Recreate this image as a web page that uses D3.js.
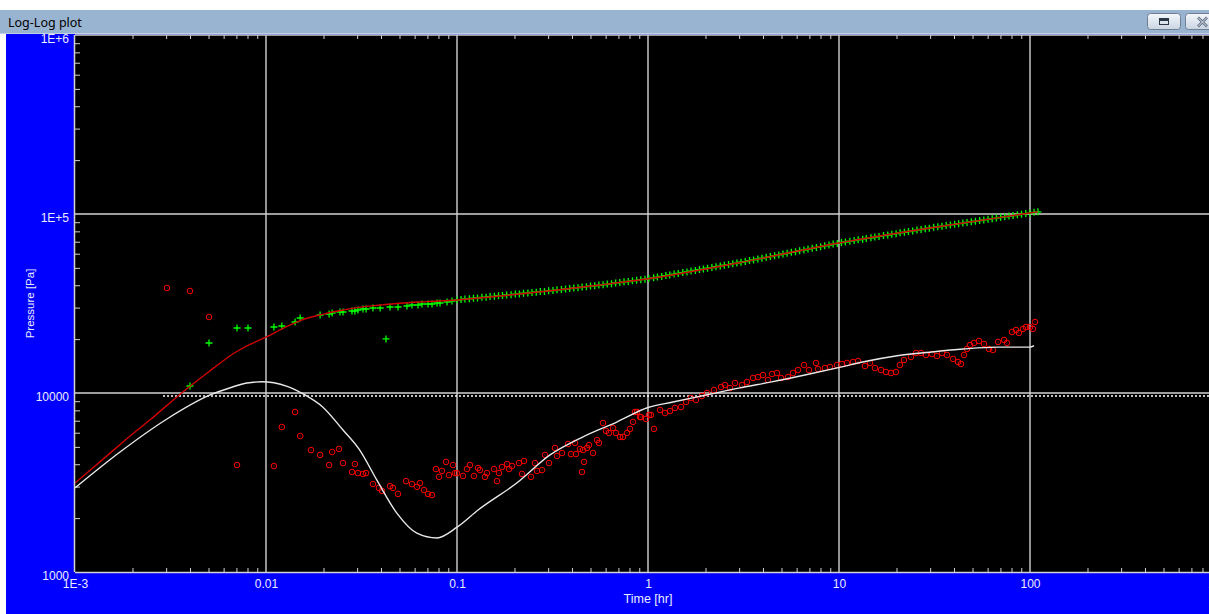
<!DOCTYPE html>
<html><head><meta charset="utf-8">
<script src="https://cdn.jsdelivr.net/npm/d3@7"></script>
<style>html,body{margin:0;padding:0;background:#fff;overflow:hidden}svg{display:block}</style>
</head><body><svg id="c" width="1209" height="614"></svg>
<script>
// ---------------- data ----------------
const windowTitle = "Log-Log plot";
const xLabel = "Time [hr]";
const yLabel = "Pressure [Pa]";
const xTicks = [0.001, 0.01, 0.1, 1, 10, 100, 1000];
const xTickLabels = ["1E-3", "0.01", "0.1", "1", "10", "100", "1000"];
const yTicks = [1000, 10000, 100000, 1000000];
const yTickLabels = ["1000", "10000", "1E+5", "1E+6"];

// model pressure (red line)
const modelPressureTime = [0.001,0.0015,0.002,0.0025,0.003,0.004,0.005,0.006,0.007,0.008,0.01,0.0125,0.015,0.02,0.025,0.03,0.04,0.05,0.07,0.1,0.2,0.3,0.56,1,3,10,30,100,110];
const modelPressure     = [3140,4540,5900,7150,8450,10900,13100,15200,17000,18400,20500,23200,25300,27600,29000,30000,31000,31700,32400,33100,35500,37150,40100,43450,53450,68870,83500,101300,102850];

// model derivative (white line)
const modelDerivTime = [0.001,0.00172,0.00303,0.0051,0.0065,0.00795,0.0095,0.011,0.0129,0.016,0.0198,0.0253,0.0309,0.038,0.0483,0.0616,0.0785,0.1,0.129,0.2055,0.307,0.457,0.686,1.0,1.35,2.04,3.03,4.44,6.63,10.2,13.3,19.8,29.9,44.5,67,100,105];
const modelDeriv     = [2950,4680,7160,9750,10700,11380,11550,11400,10900,9750,8360,6210,4810,3270,2140,1650,1550,1780,2220,3140,4510,5690,6880,8300,8900,9770,10690,11530,12600,13950,14900,16100,16900,17600,18050,18050,18400];

// measured pressure (green crosses)
const pressureTime = [0.0040,0.00503,0.00705,0.00805,0.0110,0.0121,0.0142,0.0151,0.0192,0.0214,0.0222,0.0244,0.0253,0.0282,0.0292,0.0303,0.0322,0.0334,0.0363,0.0396,0.0425,0.0446,0.0491,0.0547,0.0581,0.0625,0.0656,0.0705,0.0740,0.0786,0.0815,0.0887,0.0942,0.1,
 0.105,0.11,0.116,0.122,0.128,0.135,0.142,0.149,0.157,0.165,0.173,0.182,0.192,0.202,0.212,0.223,0.235,0.247,0.26,0.273,0.287,0.302,0.318,0.334,0.352,0.37,0.389,0.409,0.43,0.452,0.476,0.5,0.526,0.553,0.582,0.612,0.644,0.677,0.712,0.749,0.788,0.829,0.872,0.917,0.964,
 1.01,1.07,1.12,1.18,1.24,1.3,1.37,1.44,1.52,1.6,1.68,1.77,1.86,1.95,2.05,2.16,2.27,2.39,2.51,2.64,2.78,2.92,3.07,3.23,3.4,3.57,3.76,3.95,4.16,4.37,4.6,4.84,5.09,5.35,5.63,5.92,6.22,6.55,6.88,7.24,7.62,8.01,8.42,8.86,9.32,9.8,
 10.3,10.8,11.4,12,12.6,13.3,13.9,14.7,15.4,16.2,17.1,18,18.9,19.9,20.9,22,23.1,24.3,25.6,26.9,28.3,29.7,31.3,32.9,34.6,36.4,38.3,40.3,42.3,44.5,46.8,49.3,51.8,54.5,57.3,60.3,63.4,66.7,70.2,73.8,77.6,81.6,85.9,90.3,95,99.9,105,110];
const pressure = [10940,19030,23070,23070,23370,23670,24930,26240,27280,27630,27990,28350,28350,28710,28710,29090,29460,29460,29840,29840,20040,30230,30230,30620,31020,31020,31420,31420,31420,31820,31820,32230,32650,33080,
 33270,33500,33580,33850,33920,34220,34310,34580,34680,34950,35030,35310,35420,35700,35790,36070,36180,36470,36570,36850,36960,37240,37370,37690,37850,38150,38300,38620,38760,39090,39250,39580,39730,40060,40240,40620,40820,41200,41390,41780,41980,42380,42590,42980,43200,
 43580,43980,44440,44800,45310,45620,46160,46510,47080,47450,47980,48360,48900,49250,49810,50210,50780,51180,51750,52160,52760,53170,53760,54250,54930,55400,56100,56590,57300,57810,58530,59060,59790,60320,61060,61610,62360,62930,63700,64280,65090,65650,66460,67060,67880,68500,
 69290,69760,70530,71060,71790,72360,73040,73640,74360,74920,75740,76320,77100,77680,78460,79070,79860,80470,81310,81920,82760,83350,84200,84740,85550,86120,86940,87540,88330,88940,89770,90410,91240,91860,92720,93370,94220,94880,95770,96420,97320,97990,98910,99590,100520,101200,102150,102780];

// measured derivative (red circles)
const derivTime = [0.00303,0.0040,0.00503,0.00705,0.0110,0.0121,0.0142,0.0151,0.0172,0.0192,0.0214,0.0222,0.0241,0.0253,0.0282,0.0292,0.0303,0.0322,0.0334,0.0363,0.0390,0.0405,0.0446,0.0462,0.0491,0.0541,0.0581,0.0617,0.0640,0.0672,0.0705,0.0740,0.0776,0.0805,0.0834,0.0876,0.0908,0.0953,0.0976,0.100,
 0.1075,0.1128,0.1169,0.1227,0.1288,0.1319,0.1401,0.1435,0.1562,0.1619,0.1659,0.1720,0.1828,0.1872,0.1941,0.2112,0.2189,0.2243,0.2440,0.2561,0.2623,0.2787,0.2889,0.3032,0.3259,0.3338,0.3545,0.3812,0.3954,0.4148,0.4198,0.4406,0.4513,0.4568,0.4623,0.4793,0.4910,0.5153,0.5408,0.5540,
 0.5813,0.6027,0.6249,0.6558,0.6800,0.7136,0.7398,0.7764,0.8050,0.8346,0.8550,0.8758,0.9080,0.9190,0.9762,1.012,1.037,1.075,1.156,1.227,1.304,1.384,1.489,1.581,1.679,1.783,1.917,2.037,2.216,2.412,2.531,2.687,2.854,3.106,3.298,3.546,3.766,4.000,4.248,4.458,4.734,4.971,
 5.407,5.743,6.101,6.558,6.965,7.579,7.764,8.447,8.972,9.761,10.37,11.01,11.84,12.58,13.68,14.53,15.43,16.59,17.62,18.71,19.87,20.85,21.88,23.82,25.31,26.87,28.54,30.69,32.59,34.61,36.76,39.53,41.98,43.53,45.13,46.79,48.52,50.91,54.07,57.43,61.00,64.01,68.00,73.11,75.79,80.50,84.47,87.58,91.90,95.28,100,103.7,106.2];
const deriv = [38610,37140,26590,3960,3910,6460,7830,5750,4800,4510,3960,4680,4870,4060,3620,4010,3570,3530,3570,3100,2950,2840,3020,2950,2730,3220,3100,2990,3140,2870,2730,2690,3760,3400,3670,4120,3480,3960,3570,3570,
 3440,3760,3960,3440,3810,3710,3400,3570,3760,3220,3570,3860,4010,3760,3910,4060,3530,4170,3400,4060,3670,3710,4510,4060,4930,4450,4620,5190,4560,5260,4560,4870,3620,4800,4120,4930,5120,4620,5460,5260,
 6800,6140,5980,6380,5980,5680,5680,5980,6300,6890,7830,7830,7340,7340,7160,7540,7540,6300,8040,7730,7930,8250,8350,8910,9380,9140,9620,10000,10390,10800,11080,10660,11370,11080,11520,12130,12280,12600,11820,12770,12930,12130,
 12280,12930,13440,14330,13440,14710,13610,13790,13970,14330,14520,14710,14900,15090,14150,14710,13790,13440,13100,12930,13100,14330,15290,15890,16730,16730,16310,16510,16100,16730,16310,15490,14900,14520,16310,17610,18540,19030,19530,18790,17610,17390,19280,19780,19030,21920,22490,21640,22790,23370,23370,22790,24930];

// horizontal dotted stabilisation line
const stabilizationLevel = 9620;
const stabilizationStart = 0.00289;
const stabilizationEnd = 1000;

// ---------------- drawing ----------------
const W = 1209, H = 614;
const L = 75, T = 35, B = 572;
const svg = d3.select("#c");
const x = d3.scaleLog().domain([1e-3, 1e3]).range([L, 1221]);
const y = d3.scaleLog().domain([1e3, 1e6]).range([B, T]);
const FONT = "'Liberation Sans', Arial, sans-serif";
const LABEL = "#ececff";
const GRID = "#d2d2d2";

svg.append("rect").attr("width", W).attr("height", H).attr("fill", "#fff");
svg.append("rect").attr("x", 6).attr("y", 34).attr("width", W - 6).attr("height", H - 34).attr("fill", "#0000ff");
svg.append("rect").attr("x", L).attr("y", T).attr("width", W - L).attr("height", B - T).attr("fill", "#000");

// gridlines
svg.append("g").selectAll("line").data(xTicks.slice(1)).join("line")
  .attr("x1", d => x(d)).attr("x2", d => x(d)).attr("y1", T).attr("y2", B)
  .attr("stroke", GRID).attr("stroke-width", 1.4);
svg.append("g").selectAll("line").data(yTicks.slice(1)).join("line")
  .attr("x1", L).attr("x2", W).attr("y1", d => y(d)).attr("y2", d => y(d))
  .attr("stroke", GRID).attr("stroke-width", 1.4);

// minor tick values
const xMinor = [], yMinor = [];
for (let e = -3; e < 3; e++) for (let k = 2; k <= 9; k++) xMinor.push(k * Math.pow(10, e));
for (let e = 3; e < 6; e++) for (let k = 2; k <= 9; k++) yMinor.push(k * Math.pow(10, e));

function styleAxis(g) {
  g.selectAll(".domain").attr("stroke", GRID).attr("stroke-width", 1.5);
  g.selectAll(".tick line").attr("stroke", GRID).attr("stroke-width", 1);
  g.selectAll("text").attr("fill", LABEL).attr("font-family", FONT).attr("font-size", 12);
}
// bottom minor ticks (upward)
svg.append("g").attr("transform", `translate(0,${B})`)
  .call(d3.axisBottom(x).tickValues(xMinor).tickSize(-4).tickSizeOuter(0).tickFormat(""))
  .call(styleAxis).call(g => g.select(".domain").remove());
// top minor ticks (downward)
svg.append("g").attr("transform", `translate(0,${T})`)
  .call(d3.axisTop(x).tickValues(xMinor).tickSize(-4).tickSizeOuter(0).tickFormat(""))
  .call(styleAxis).call(g => g.select(".domain").remove());
// left minor ticks (rightward)
svg.append("g").attr("transform", `translate(${L},0)`)
  .call(d3.axisLeft(y).tickValues(yMinor).tickSize(-5).tickSizeOuter(0).tickFormat(""))
  .call(styleAxis).call(g => g.select(".domain").remove());

// clipped data layer
svg.append("defs").append("clipPath").attr("id", "plot")
  .append("rect").attr("x", L).attr("y", T).attr("width", W - L).attr("height", B - T);
const plot = svg.append("g").attr("clip-path", "url(#plot)");

// stabilisation dotted line
plot.append("line")
  .attr("x1", x(stabilizationStart)).attr("x2", x(stabilizationEnd))
  .attr("y1", y(stabilizationLevel)).attr("y2", y(stabilizationLevel))
  .attr("stroke", "#ffffff").attr("stroke-width", 1.3).attr("stroke-dasharray", "2,2");

const line = d3.line().x(d => x(d[0])).y(d => y(d[1])).curve(d3.curveMonotoneX);

// red circles (derivative data)
const dpts = derivTime.map((t, i) => [t, deriv[i]]);
const cg = plot.append("g");
cg.selectAll("circle.o").data(dpts).join("circle").attr("class", "o")
  .attr("cx", d => x(d[0])).attr("cy", d => y(d[1])).attr("r", 2.8)
  .attr("fill", "none").attr("stroke", "#ff0000").attr("stroke-width", 1);
cg.selectAll("circle.c").data(dpts).join("circle").attr("class", "c")
  .attr("cx", d => x(d[0])).attr("cy", d => y(d[1])).attr("r", 0.6)
  .attr("fill", "#cc0000");

// white model derivative line
plot.append("path").datum(modelDerivTime.map((t, i) => [t, modelDeriv[i]]))
  .attr("d", line).attr("fill", "none").attr("stroke", "#e8e8e8").attr("stroke-width", 1.4);

// green crosses (pressure data)
const ppts = pressureTime.map((t, i) => [t, pressure[i]]);
plot.append("g").selectAll("path").data(ppts).join("path")
  .attr("transform", d => `translate(${x(d[0])},${y(d[1])})`)
  .attr("d", "M-3.5,0H3.5M0,-3.5V3.5")
  .attr("stroke", "#00ff00").attr("stroke-width", 1.3).attr("fill", "none");

// red model pressure line
plot.append("path").datum(modelPressureTime.map((t, i) => [t, modelPressure[i]]))
  .attr("d", line).attr("fill", "none").attr("stroke", "#d00000").attr("stroke-width", 1.4);

// axes with labels
const gx = svg.append("g").attr("transform", `translate(0,${B})`)
  .call(d3.axisBottom(x).tickValues(xTicks).tickFormat((d, i) => xTickLabels[i]).tickSize(0).tickSizeOuter(0).tickPadding(7))
  .call(styleAxis);
gx.select(".domain").attr("d", `M${L},0.5H${W}`);
const gy = svg.append("g").attr("transform", `translate(${L},0)`)
  .call(d3.axisLeft(y).tickValues(yTicks).tickFormat((d, i) => yTickLabels[i]).tickSize(0).tickSizeOuter(0).tickPadding(6))
  .call(styleAxis);
gy.selectAll("text").attr("dy", "0.62em");
gy.select(".domain").attr("d", `M-0.5,${T}V${B}`);

// axis titles
svg.append("text").attr("x", (x.range()[0] + x.range()[1]) / 2).attr("y", 603)
  .attr("text-anchor", "middle").attr("fill", LABEL).attr("font-family", FONT).attr("font-size", 12.5)
  .text(xLabel);
svg.append("text").attr("transform", `translate(34,${(T + B) / 2}) rotate(-90)`)
  .attr("text-anchor", "middle").attr("fill", LABEL).attr("font-family", FONT).attr("font-size", 11.5)
  .text(yLabel);

// window title bar
svg.append("rect").attr("x", 0).attr("y", 10).attr("width", W).attr("height", 23).attr("fill", "#99b4d1");
svg.append("rect").attr("x", 0).attr("y", 33).attr("width", W).attr("height", 1).attr("fill", "#c3d2e3");
svg.append("text").attr("x", 8).attr("y", 27).attr("fill", "#000").attr("font-family", "'Noto Sans', 'Liberation Sans', sans-serif")
  .attr("font-size", 12.5).text(windowTitle);
const grad = svg.select("defs").append("linearGradient").attr("id", "btn").attr("x1", 0).attr("x2", 0).attr("y1", 0).attr("y2", 1);
grad.append("stop").attr("offset", 0).attr("stop-color", "#f4f7fb");
grad.append("stop").attr("offset", 0.5).attr("stop-color", "#dfe6ef");
grad.append("stop").attr("offset", 1).attr("stop-color", "#c9d4e2");
svg.append("rect").attr("x", 1147.5).attr("y", 13.5).attr("width", 33).attr("height", 16).attr("rx", 3)
  .attr("fill", "url(#btn)").attr("stroke", "#6f7f96");
svg.append("rect").attr("x", 1159.5).attr("y", 18.5).attr("width", 9).attr("height", 6).attr("fill", "none").attr("stroke", "#2b3645");
svg.append("rect").attr("x", 1160).attr("y", 19).attr("width", 8).attr("height", 2).attr("fill", "#2b3645");
svg.append("rect").attr("x", 1185.5).attr("y", 13.5).attr("width", 40).attr("height", 16).attr("rx", 3)
  .attr("fill", "url(#btn)").attr("stroke", "#6f7f96");
svg.append("path").attr("d", "M1198,17.5L1207,26.5M1207,17.5L1198,26.5")
  .attr("stroke", "#5b6a80").attr("stroke-width", 2.6).attr("fill", "none");
svg.append("path").attr("d", "M1198,17.5L1207,26.5M1207,17.5L1198,26.5")
  .attr("stroke", "#e9eef5").attr("stroke-width", 1).attr("fill", "none");
</script></body></html>
